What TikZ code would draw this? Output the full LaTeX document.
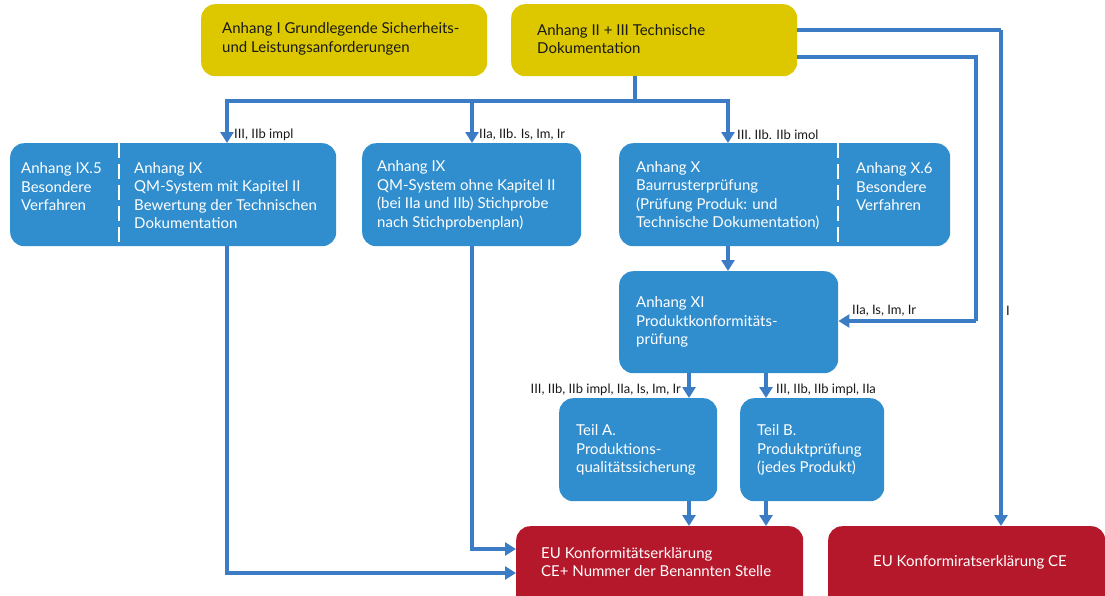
\documentclass[tikz,border=0pt]{standalone}
\usepackage{fontspec}
\setmainfont{Lato}
\usetikzlibrary{arrows.meta}
\definecolor{ylw}{RGB}{221,200,0}
\definecolor{blu}{RGB}{48,142,207}
\definecolor{rd}{RGB}{181,24,43}
\definecolor{ln}{RGB}{60,124,196}
\definecolor{dtxt}{RGB}{25,25,25}
\begin{document}
\begin{tikzpicture}[x=1pt,y=-1pt,
  boxbase/.style={rounded corners=14pt, inner sep=0pt, anchor=north west, draw=none},
  ybox/.style={boxbase, fill=ylw},
  bbox/.style={boxbase, fill=blu},
  rbox/.style={boxbase, fill=rd},
  dtext/.style={anchor=west, align=left, inner sep=0pt, text=dtxt, font=\fontsize{15}{18.5}\selectfont},
  wtext/.style={anchor=west, align=left, inner sep=0pt, text=white, font=\fontsize{15}{18.5}\selectfont},
  lbl/.style={inner sep=0pt, text=dtxt, font=\fontsize{13}{15}\selectfont},
  conn/.style={draw=ln, line width=3.5pt},
  arr/.style={conn, -{Triangle[width=13pt,length=11pt]}},
  sep/.style={draw=white, line width=1.5pt, dash pattern=on 15pt off 6pt}
]
\useasboundingbox (0,0) rectangle (1105,595);
\clip (0,0) rectangle (1105,595);

% boxes
\node[ybox, minimum width=286pt, minimum height=72pt] (yI) at (201,4) {};
\node[ybox, minimum width=286pt, minimum height=72pt] (yII) at (511,4) {};
\node[bbox, minimum width=326pt, minimum height=103pt] (b9a) at (10,143) {};
\node[bbox, minimum width=219pt, minimum height=103pt] (b9b) at (362,143) {};
\node[bbox, minimum width=331pt, minimum height=103pt] (bX) at (619,143) {};
\node[bbox, minimum width=219pt, minimum height=102pt] (bXI) at (619,271) {};
\node[bbox, minimum width=158pt, minimum height=103pt] (bA) at (559,398) {};
\node[bbox, minimum width=144pt, minimum height=103pt] (bB) at (740,398) {};
\node[rbox, minimum width=287pt, minimum height=84pt] (rEU) at (516,526) {};
\node[rbox, minimum width=277pt, minimum height=84pt] (rCE) at (828,526) {};

% separators
\draw[sep] (119,143) -- (119,246);
\draw[sep] (838,143) -- (838,246);

% texts
\node[dtext] (tI) at (222,39) {Anhang I Grundlegende Sicherheits-\\und Leistungsanforderungen};
\node[dtext] (tII) at (537,39) {Anhang II + III Technische\\Dokumentation};
\node[wtext] (t9a1) at (21,187) {Anhang IX.5\\Besondere\\Verfahren};
\node[wtext] (t9a2) at (134,195.5) {Anhang IX\\QM-System mit Kapitel II\\Bewertung der Technischen\\Dokumentation};
\node[wtext] (t9b) at (377,195.5) {Anhang IX\\QM-System ohne Kapitel II\\(bei IIa und IIb) Stichprobe\\nach Stichprobenplan)};
\node[wtext] (tX) at (636,195.5) {Anhang X\\Baurrusterprüfung\\(Prüfung Produk: und\\Technische Dokumentation)};
\node[wtext] (tX6) at (856,187) {Anhang X.6\\Besondere\\Verfahren};
\node[wtext] (tXI) at (636,322) {Anhang XI\\Produktkonformitäts-\\prüfung};
\node[wtext] (tA) at (576,450) {Teil A.\\Produktions-\\qualitätssicherung};
\node[wtext] (tB) at (757,450) {Teil B.\\Produktprüfung\\(jedes Produkt)};
\node[wtext] (tEU) at (541,562) {EU Konformitätserklärung\\CE+ Nummer der Benannten Stelle};
\node[wtext, anchor=center] (tCE) at (970,562) {EU Konformiratserklärung CE};

% coordinates
\coordinate (j) at (635,101);
\coordinate (j9a) at (227,101);
\coordinate (j9b) at (472,101);
\coordinate (jX) at (728,101);
\coordinate (e1) at (797,30);
\coordinate (c1) at (1001,30);
\coordinate (e2) at (797,57);
\coordinate (c2) at (976,57);
\coordinate (c3) at (976,321);

% connectors
\draw[conn] (yII.south -| j) -- (j);
\draw[conn, line cap=rect] (j9a) -- (jX);
\draw[arr] (j9a) -- (j9a |- b9a.north);
\draw[arr] (j9b) -- (j9b |- b9b.north);
\draw[arr] (jX) -- (jX |- bX.north);
\draw[arr] (jX |- bX.south) -- (jX |- bXI.north);
\draw[arr] (689,373) -- (689,398);
\draw[arr] (766,373) -- (766,398);
\draw[arr] (689,501) -- (689,526);
\draw[arr] (766,501) -- (766,526);
\draw[arr] (j9a |- b9a.south) -- (227,573) -- (rEU.west |- 0,573);
\draw[arr] (j9b |- b9b.south) -- (472,549) -- (rEU.west |- 0,549);
\draw[conn] (e1) -- (c1);
\draw[arr] (c1) -- (c1 |- rCE.north);
\draw[conn] (e2) -- (c2) -- (c3);
\draw[arr] (c3) -- (bXI.east |- c3);

% labels
\node[lbl, anchor=west] (l1) at (234,135) {III, IIb impl};
\node[lbl, anchor=west] (l2) at (479,135) {IIa, IIb. Is, Im, Ir};
\node[lbl, anchor=west] (l3) at (737,135) {III. IIb. IIb imol};
\node[lbl, anchor=west] (l4) at (852,311) {IIa, Is, Im, Ir};
\node[lbl, anchor=west] (l5) at (1006,311) {I};
\node[lbl, anchor=east] (l6) at (681,390) {III, IIb, IIb impl, IIa, Is, Im, Ir};
\node[lbl, anchor=west] (l7) at (776,390) {III, IIb, IIb impl, IIa};
\end{tikzpicture}
\end{document}
